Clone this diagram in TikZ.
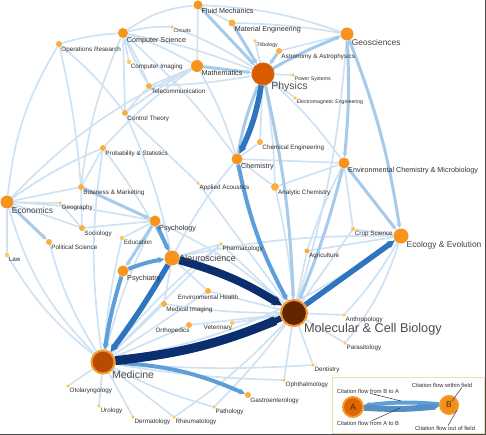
\documentclass[tikz,border=0pt]{standalone}
\usepackage{fontspec}
\setmainfont{Liberation Sans}
\usetikzlibrary{arrows.meta,positioning}
\definecolor{tinyorg}{HTML}{FDC85E}
\definecolor{smallorg}{HTML}{FAAE3C}
\definecolor{midorg}{HTML}{F7941D}
\definecolor{physorg}{HTML}{D95B00}
\definecolor{medorg}{HTML}{B94A04}
\definecolor{mcbbrown}{HTML}{632500}
\definecolor{ringorg}{HTML}{F39A2A}
\definecolor{flowA}{HTML}{CFE2F3}
\definecolor{flowB}{HTML}{A6CBEA}
\definecolor{flowC}{HTML}{5E9FD9}
\definecolor{flowD}{HTML}{2F74BE}
\definecolor{flowE}{HTML}{0B2F6E}
\definecolor{labelgray}{HTML}{2E2E2E}
\definecolor{keyedge}{HTML}{F3DCAE}
\pgfdeclarelayer{bg}
\pgfsetlayers{bg,main}
\tikzset{
  field/.style={circle, inner sep=0pt, draw=none},
  tinyfield/.style={field, fill=tinyorg, minimum size=3.6pt},
  smallfield/.style={field, fill=smallorg, minimum size=6pt},
  midfield/.style={field, fill=midorg, minimum size=10pt},
  bigfield/.style={field, fill=midorg, minimum size=14pt},
  hubfield/.style={field, draw=ringorg, line width=2pt},
  lbltiny/.style={inner sep=0pt, text=labelgray, font=\fontsize{5.2}{6}\selectfont},
  lbl/.style={inner sep=0pt, text=labelgray, font=\fontsize{6.3}{7}\selectfont},
  lblmid/.style={inner sep=0pt, text=labelgray, font=\fontsize{7.2}{8}\selectfont},
  lblbig/.style={inner sep=0pt, text=black!75, font=\fontsize{8.4}{9}\selectfont},
  lblhub/.style={inner sep=0pt, text=black!70, font=\fontsize{10.5}{12}\selectfont},
  flowa/.style={draw=flowA, line width=1.7pt},
  flowb/.style={draw=flowB, line width=3pt, -{Stealth[length=5pt,width=4.5pt]}},
  flowc/.style={draw=flowC, line width=4pt, -{Stealth[length=6pt,width=6pt]}},
  flowd/.style={draw=flowD, line width=5.5pt, -{Stealth[length=8pt,width=8pt]}},
  flowe/.style={draw=flowE, line width=8pt, -{Stealth[length=10pt,width=10pt]}},
  pointer/.style={draw=black!80, line width=0.5pt},
  keytext/.style={inner sep=0pt, text=labelgray, font=\fontsize{5.8}{7}\selectfont}
}

\begin{document}
\begin{tikzpicture}[x=1pt, y=-1pt]
  \useasboundingbox (0,0) rectangle (486,435);

  % fields, top
  \node[midfield, minimum size=9pt] (fluid) at (198,5) {}; \node[lblmid, below right=0pt of fluid] (fluid-t) {Fluid Mechanics};
  \node[smallfield, minimum size=7pt] (mat) at (232,23) {}; \node[lblmid, below right=0pt of mat] (mat-t) {Material Engineering};
  \node[tinyfield] (circ) at (172,27) {}; \node[lbltiny, below right=0pt of circ] (circ-t) {Circuits};
  \node[midfield] (cs) at (123,33) {}; \node[lblmid, below right=0pt of cs] (cs-t) {Computer Science};
  \node[smallfield] (opr) at (59,44) {}; \node[lbl, below right=0pt of opr] (opr-t) {Operations Research};
  \node[tinyfield, minimum size=4.5pt] (cimg) at (129,62) {}; \node[lbl, below right=0pt of cimg] (cimg-t) {Computer Imaging};
  \node[midfield, minimum size=12pt] (math) at (197,66) {}; \node[lblmid, below right=0pt of math] (math-t) {Mathematics};
  \node[smallfield] (tele) at (149,86) {}; \node[lbl, below right=0pt of tele] (tele-t) {Telecommunication};
  \node[smallfield] (ctrl) at (125,113) {}; \node[lbl, below right=0pt of ctrl] (ctrl-t) {Control Theory};
  \node[smallfield] (prob) at (103,148) {}; \node[lbl, below right=0pt of prob] (prob-t) {Probability \& Statistics};
  \node[tinyfield] (trib) at (255,41) {}; \node[lbltiny, below right=0pt of trib] (trib-t) {Tribology};
  \node[smallfield] (astr) at (279,51) {}; \node[lbl, below right=0pt of astr] (astr-t) {Astronomy \& Astrophysics};
  \node[bigfield, minimum size=13pt] (geo) at (347,34) {}; \node[lblbig, below right=0pt of geo] (geo-t) {Geosciences};
  \node[hubfield, fill=physorg, draw=physorg!80!ringorg, line width=1pt, minimum size=22pt] (phys) at (263,74) {};
  \node[lblhub, below right=0pt of phys] (phys-t) {Physics};
  \node[tinyfield] (pow) at (293,75) {}; \node[lbltiny, below right=0pt of pow] (pow-t) {Power Systems};
  \node[tinyfield] (emag) at (295,98) {}; \node[lbltiny, below right=0pt of emag] (emag-t) {Electromagnetic Engineering};

  % fields, middle
  \node[smallfield] (cheng) at (260,142) {}; \node[lbl, below right=0pt of cheng] (cheng-t) {Chemical Engineering};
  \node[midfield, minimum size=11pt] (chem) at (237,159) {}; \node[lblmid, below right=0pt of chem] (chem-t) {Chemistry};
  \node[midfield, minimum size=11pt] (envc) at (344,163) {}; \node[lblmid, below right=0pt of envc] (envc-t) {Environmental Chemistry \& Microbiology};
  \node[smallfield, minimum size=8pt] (anal) at (275,187) {}; \node[lbl, below right=0pt of anal] (anal-t) {Analytic Chemistry};
  \node[tinyfield] (acou) at (198,183) {}; \node[lbl, below right=0pt of acou] (acou-t) {Applied Acoustics};
  \node[tinyfield, minimum size=4.5pt] (crop) at (353,229) {}; \node[lbl, below right=0pt of crop] (crop-t) {Crop Science};
  \node[bigfield, minimum size=15pt] (eco) at (401,236) {}; \node[lblbig, below right=0pt of eco] (eco-t) {Ecology \& Evolution};
  \node[smallfield, minimum size=5pt] (agri) at (307,251) {}; \node[lbl, below right=0pt of agri] (agri-t) {Agriculture};
  \node[smallfield] (busi) at (81,187) {}; \node[lbl, below right=0pt of busi] (busi-t) {Business \& Marketing};
  \node[bigfield, minimum size=13pt] (econ) at (7,202) {}; \node[lblbig, below right=0pt of econ] (econ-t) {Economics};
  \node[tinyfield] (geog) at (60,203) {}; \node[lbl, below right=0pt of geog] (geog-t) {Geography};
  \node[smallfield] (soci) at (82,228) {}; \node[lbl, below right=0pt of soci] (soci-t) {Sociology};
  \node[midfield, minimum size=11pt] (psyc) at (155,221) {}; \node[lblmid, below right=0pt of psyc] (psyc-t) {Psychology};
  \node[tinyfield, minimum size=4.5pt] (educ) at (122,238) {}; \node[lbl, below right=0pt of educ] (educ-t) {Education};
  \node[smallfield] (pols) at (49,242) {}; \node[lbl, below right=0pt of pols] (pols-t) {Political Science};
  \node[tinyfield, minimum size=4.5pt] (law) at (7,255) {}; \node[lbl, below right=0pt of law] (law-t) {Law};
  \node[bigfield, minimum size=15pt] (neuro) at (172,258) {}; \node[lblbig, font=\fontsize{9}{10}\selectfont, right=1pt of neuro] (neuro-t) {Neuroscience};
  \node[midfield, minimum size=11pt] (psyt) at (123,271) {}; \node[lblmid, below right=0pt of psyt] (psyt-t) {Psychiatry};
  \node[tinyfield] (pharm) at (221,244) {}; \node[lbl, below right=0pt of pharm] (pharm-t) {Pharmacology};

  % fields, bottom
  \node[smallfield] (envh) at (208,291) {}; \node[lbl, below=0.5pt of envh] (envh-t) {Environmental Health};
  \node[smallfield] (mimg) at (164,304) {}; \node[lbl, below right=0pt of mimg] (mimg-t) {Medical Imaging};
  \node[smallfield] (orth) at (189,325) {}; \node[lbl, below left=0pt and -3pt of orth] (orth-t) {Orthopedics};
  \node[tinyfield, minimum size=4.5pt] (vet) at (232,323) {}; \node[lbl, below left=0pt and -2pt of vet] (vet-t) {Veterinary};
  \node[hubfield, fill=mcbbrown, minimum size=26pt] (mcb) at (294,313) {};
  \node[lblhub, font=\fontsize{12.7}{14}\selectfont, below right=0pt of mcb] (mcb-t) {Molecular \& Cell Biology};
  \node[hubfield, fill=medorg, minimum size=23pt] (med) at (103,362) {};
  \node[lblhub, below right=0pt of med] (med-t) {Medicine};
  \node[tinyfield] (anth) at (344,315) {}; \node[lbl, below right=0pt of anth] (anth-t) {Anthropology};
  \node[tinyfield] (para) at (345,343) {}; \node[lbl, below right=0pt of para] (para-t) {Parasitology};
  \node[tinyfield] (dent) at (313,365) {}; \node[lbl, below right=0pt of dent] (dent-t) {Dentistry};
  \node[tinyfield] (opht) at (284,380) {}; \node[lbl, below right=0pt of opht] (opht-t) {Ophthalmology};
  \node[smallfield] (gast) at (248,395) {}; \node[lbl, below right=0pt of gast] (gast-t) {Gastroenterology};
  \node[tinyfield] (otol) at (68,386) {}; \node[lbl, below right=0pt of otol] (otol-t) {Otolaryngology};
  \node[tinyfield] (urol) at (99,406) {}; \node[lbl, below right=0pt of urol] (urol-t) {Urology};
  \node[tinyfield] (derm) at (133,417) {}; \node[lbl, below right=0pt of derm] (derm-t) {Dermatology};
  \node[tinyfield] (rheu) at (174,417) {}; \node[lbl, below right=0pt of rheu] (rheu-t) {Rheumatology};
  \node[tinyfield] (path) at (214,407) {}; \node[lbl, below right=0pt of path] (path-t) {Pathology};

  % citation flows
  \begin{pgfonlayer}{bg}
    \draw[flowa] (opr) to[bend left=6] (cs) (opr) to[bend right=12] (econ) (opr) to[bend left=4] (busi)
      (opr) to[bend left=6] (ctrl) (cs) to[bend left=8] (circ) (cs) to[bend left=14] (fluid)
      (cs) to[bend left=6] (math) (cs) to[bend left=5] (phys) (cs) -- (cimg) (cs) to[bend left=4] (tele)
      (cs) to[bend right=4] (tele) (cs) -- (ctrl) (cs) to[bend right=8] (busi) (cs) to[bend left=6] (chem)
      (circ) to[bend left=6] (phys) (fluid) -- (math) (fluid) -- (mat) (fluid) to[bend left=8] (geo)
      (mat) to[bend left=4] (geo) (math) -- (tele) (math) to[bend right=4] (ctrl) (math) to[bend right=6] (prob)
      (math) to[bend right=10] (econ) (math) to[bend left=6] (chem) (tele) to[bend right=4] (phys)
      (tele) -- (ctrl) (ctrl) -- (acou) (ctrl) to[bend left=6] (neuro) (trib) -- (phys)
      (phys) -- (pow) (phys) -- (emag) (phys) -- (cheng) (phys) to[bend left=4] (anal)
      (phys) to[bend left=6] (envc) (astr) -- (geo) (cheng) -- (chem) (chem) -- (anal)
      (chem) -- (envc) (chem) to[bend right=6] (neuro) (anal) -- (envc) (anal) to[bend left=4] (mcb)
      (envc) -- (crop) (envc) to[bend right=4] (agri) (eco) -- (crop) (eco) -- (agri)
      (eco) to[bend left=6] (anth) (eco) to[bend left=10] (para) (eco) to[bend right=6] (neuro)
      (eco) to[bend left=12] (med) (econ) -- (busi) (econ) -- (geog) (econ) -- (soci)
      (econ) -- (law) (econ) to[bend left=6] (prob) (econ) to[bend left=4] (psyc)
      (econ) to[bend right=14] (med) (busi) -- (soci) (busi) -- (prob) (soci) -- (psyc)
      (soci) -- (geog) (psyc) -- (educ) (psyc) to[bend right=6] (med) (psyc) to[bend left=8] (mcb)
      (prob) to[bend right=8] (med) (prob) to[bend left=4] (neuro) (neuro) -- (pharm)
      (neuro) -- (mimg) (neuro) -- (envh) (med) -- (mimg) (med) -- (envh) (med) -- (orth)
      (med) -- (otol) (med) -- (urol) (med) -- (derm) (med) -- (rheu) (med) to[bend right=6] (path)
      (med) to[bend right=4] (opht) (med) to[bend right=4] (dent) (med) to[bend left=6] (pharm)
      (mcb) -- (pharm) (mcb) -- (envh) (mcb) -- (vet) (mcb) -- (agri) (mcb) -- (crop)
      (mcb) -- (anth) (mcb) -- (para) (mcb) -- (dent) (mcb) -- (opht) (mcb) to[bend left=4] (path)
      (mcb) to[bend left=6] (rheu) (mcb) -- (orth) (mcb) to[bend left=4] (mimg) (geo) to[bend left=6] (mcb)
      (pols) to[bend right=8] (med) (educ) to[bend right=4] (med) (law) to[bend right=10] (med)
      (acou) -- (mcb) (pharm) -- (med);
    \draw[flowb] (fluid) -- (phys);
    \draw[flowb] (mat) -- (phys);
    \draw[flowb] (math) -- (phys);
    \draw[flowb] (astr) -- (phys);
    \draw[flowb] (phys) to[bend left=4] (geo);
    \draw[flowb] (geo) to[bend left=4] (envc);
    \draw[flowb] (geo) to[bend left=6] (eco);
    \draw[flowb] (envc) -- (eco);
    \draw[flowb] (envc) to[bend left=4] (mcb);
    \draw[flowb] (phys) to[bend left=5] (mcb);
    \draw[flowb] (busi) -- (psyc);
    \draw[flowb] (econ) -- (pols);
    \draw[flowb] (psyc) -- (psyt);
    \draw[flowb] (chem) to[bend left=6] (phys);
    \draw[flowc] (chem) to[bend right=8] (mcb);
    \draw[flowc] (psyc) -- (neuro);
    \draw[flowc] (psyt) to[bend left=6] (neuro);
    \draw[flowc] (med) to[bend left=10] (gast);
    \draw[flowc] (psyt) to[bend right=4] (med);
    \draw[flowd] (phys) to[bend left=8] (chem);
    \draw[flowd] (mcb) -- (eco);
    \draw[flowd] (neuro) to[bend left=3] (med);
    \draw[flowe] (neuro) to[bend left=8] (mcb);
    \draw[flowe, line width=9pt] (med) to[bend right=8] (mcb);
    \draw[flowe, line width=6pt] (mcb) to[bend left=8] (med);
  \end{pgfonlayer}

  % key
  \node[draw=keyedge, line width=0.8pt, anchor=north west, minimum width=152pt, minimum height=56pt] (key) at (332,377) {};
  \node[hubfield, fill=physorg!85!midorg, minimum size=20pt, text=mcbbrown, font=\fontsize{9}{10}\selectfont] (keyA) at (353,407) {A};
  \node[hubfield, fill=midorg!90!physorg, minimum size=18pt, text=mcbbrown, font=\fontsize{8.5}{10}\selectfont] (keyB) at (449,405) {B};
  \draw[flowc, line width=4pt] (keyB) to[bend right=6] (keyA);
  \draw[flowc, draw=flowC!90!black, line width=6pt] (keyA) to[bend right=5] (keyB);
  \node[keytext] (kBA) at (368,391) {Citation flow from B to A};
  \node[keytext] (kAB) at (368,423) {Citation flow from A to B};
  \node[keytext] (kin) at (442,385) {Citation flow within field};
  \node[keytext] (kout) at (445,428) {Citation flow out of field};
  \coordinate (kBA-end) at (401,401);
  \coordinate (kAB-end) at (400,408);
  \coordinate (kin-end) at (452,401);
  \coordinate (kout-end) at (457,410);
  \draw[pointer] ([xshift=2pt]kBA.south) -- (kBA-end);
  \draw[pointer] ([xshift=4pt]kAB.north) -- (kAB-end);
  \draw[pointer] ([xshift=20pt]kin.south) -- (kin-end);
  \draw[pointer] ([xshift=3pt]kout.north) -- (kout-end);

  % frame
  \draw[black!70, line width=1.4pt] (0,434.3) -- (485.3,434.3) -- (485.3,0);
\end{tikzpicture}
\end{document}
